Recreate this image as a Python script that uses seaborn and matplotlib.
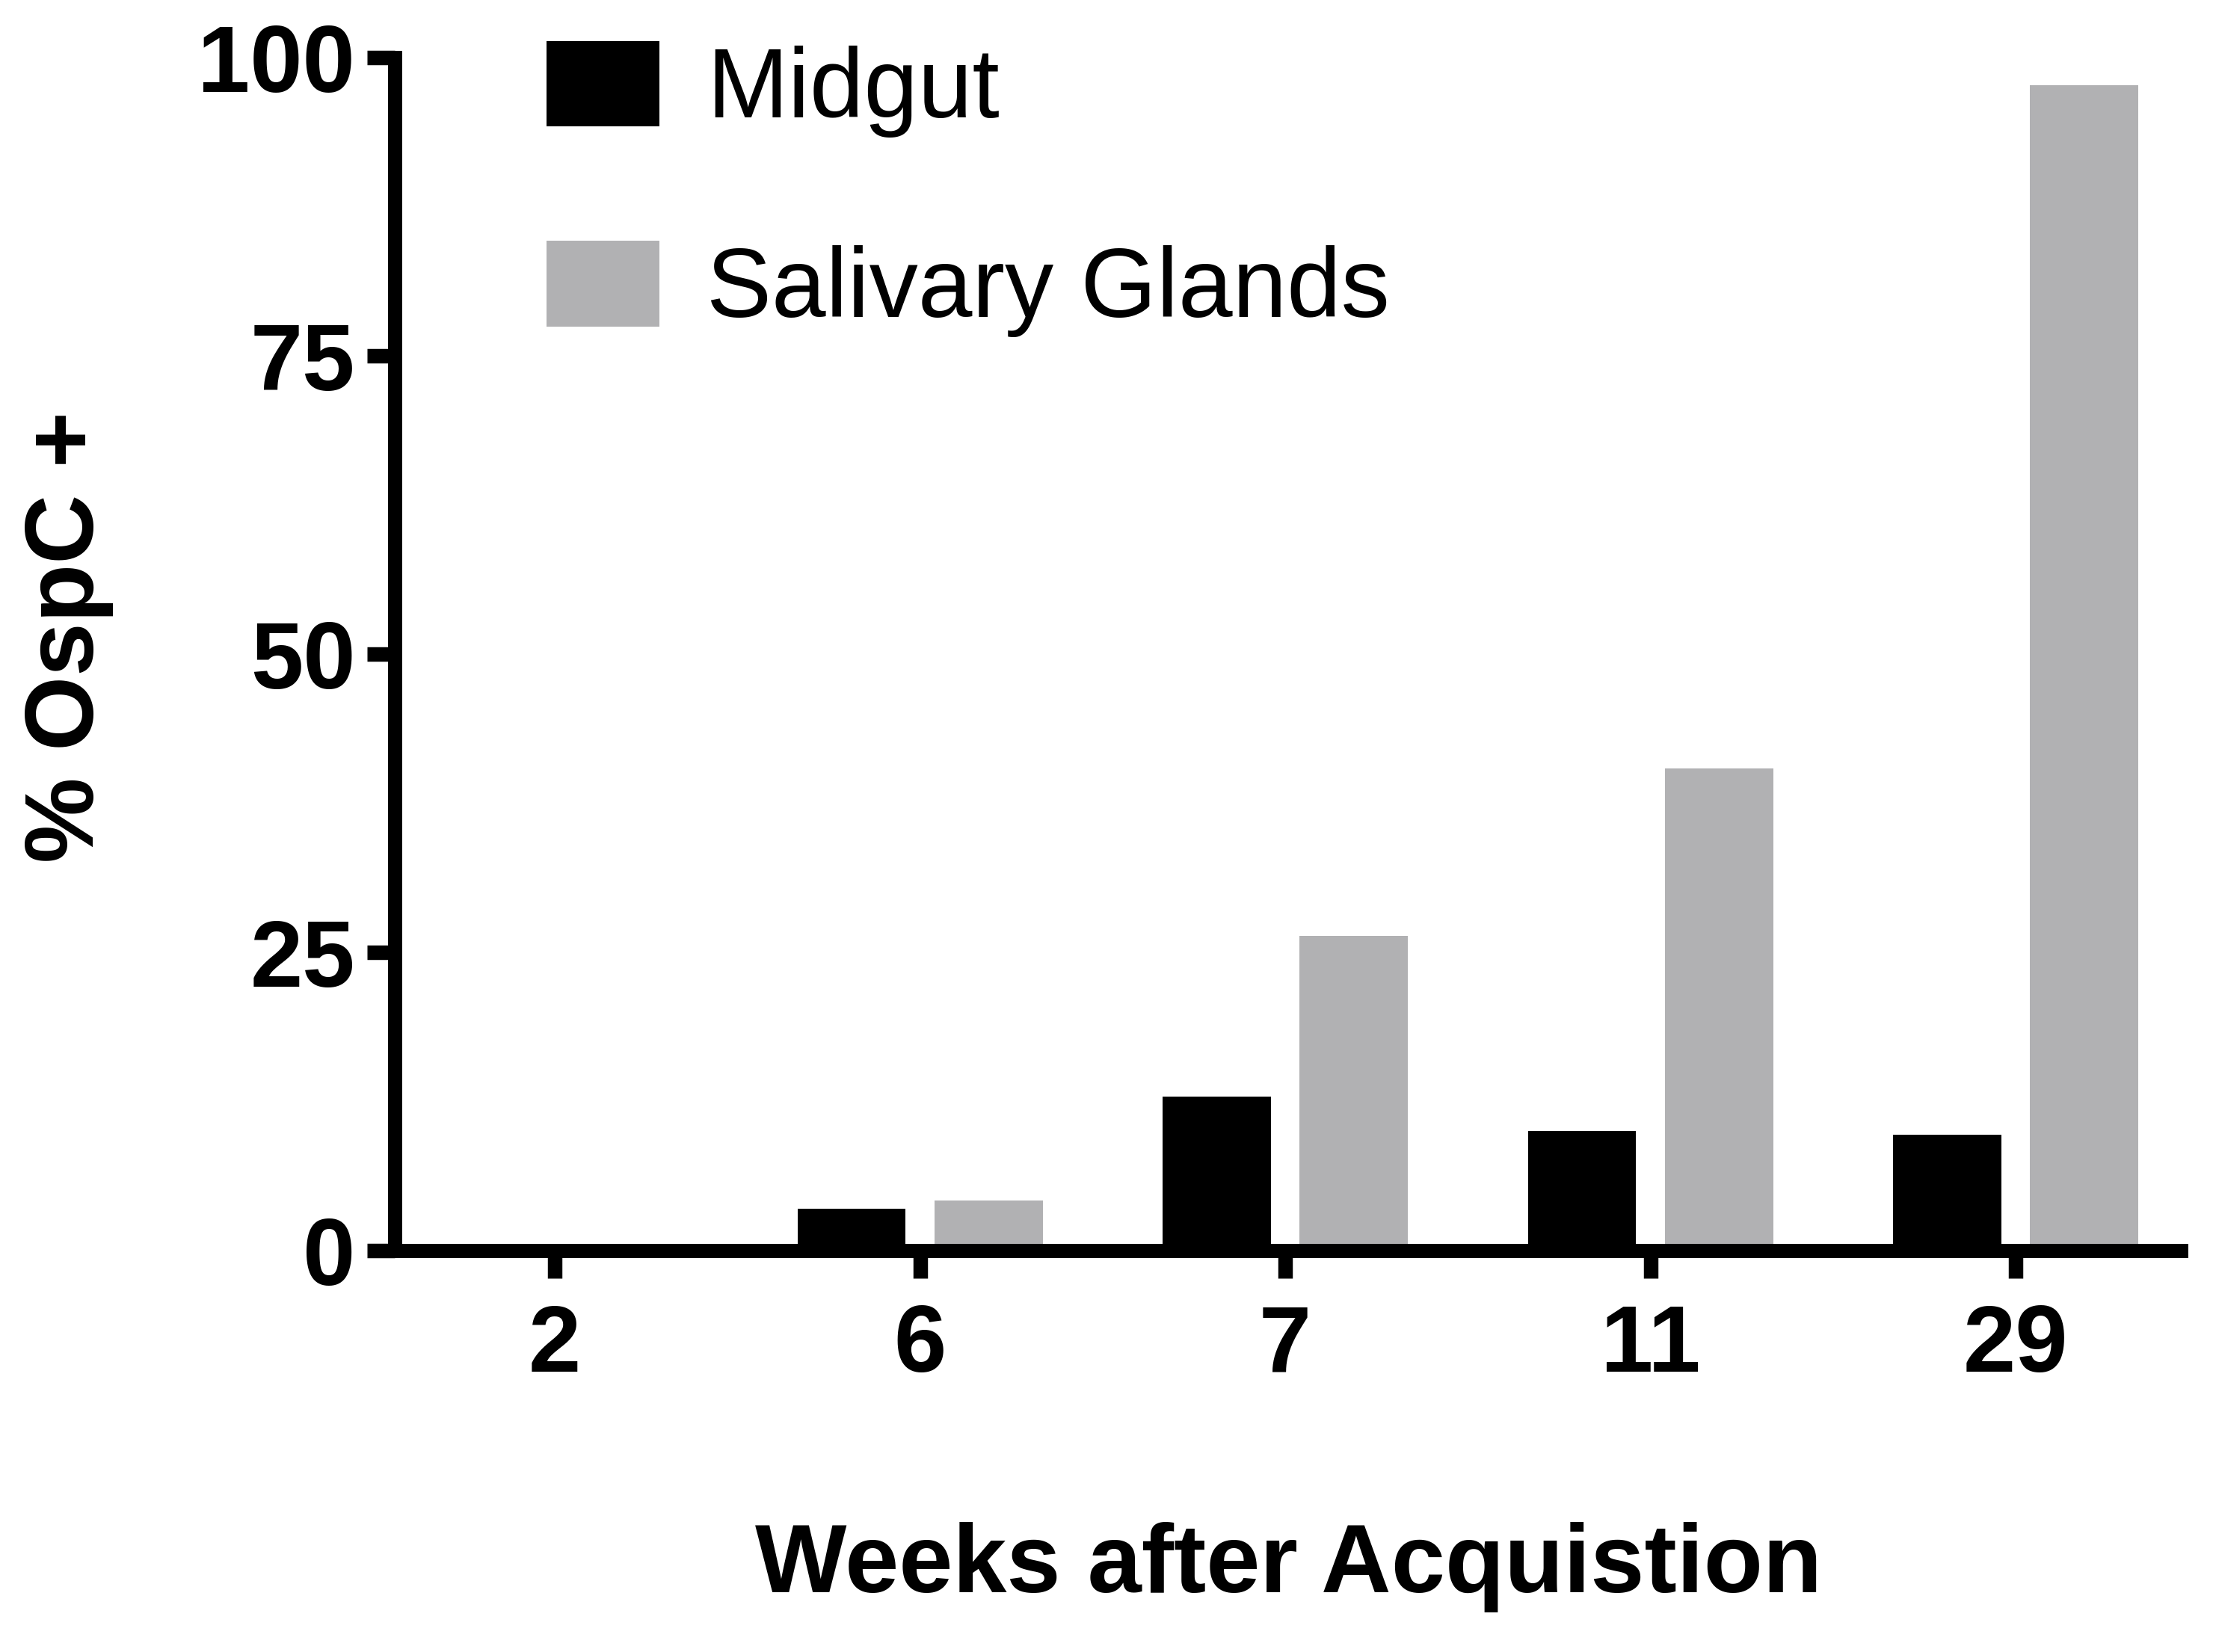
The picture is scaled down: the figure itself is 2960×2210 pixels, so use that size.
import matplotlib
matplotlib.use("Agg")
import matplotlib.pyplot as plt
import seaborn as sns
import pandas as pd
from matplotlib.patches import Patch

weeks = ["2", "6", "7", "11", "29"]
midgut = [0.0, 3.5, 12.9, 10.0, 9.7]
salivary = [0.0, 4.2, 26.4, 40.4, 97.7]
series_names = ["Midgut", "Salivary Glands"]
colors = ["#000000", "#b1b1b3"]
y_ticks = [0, 25, 50, 75, 100]

df = pd.DataFrame({
    "week": weeks * 2,
    "value": midgut + salivary,
    "tissue": [series_names[0]] * len(weeks) + [series_names[1]] * len(weeks),
})

sns.set_theme(style="white")
plt.rcParams["font.family"] = ["Liberation Sans", "DejaVu Sans"]
plt.rcParams["text.color"] = "black"

W, H, DPI = 2960, 2210, 200
fig = plt.figure(figsize=(W / DPI, H / DPI), dpi=DPI)
left, right, top, bottom = 528, 2917, 77, 1673
ax = fig.add_axes([left / W, 1 - bottom / H, (right - left) / W, (bottom - top) / H])

sns.barplot(data=df, x="week", y="value", hue="tissue", order=weeks,
            hue_order=series_names, palette=colors, saturation=1,
            width=0.75, gap=0.21, ax=ax, legend=False, linewidth=0)

ax.set_xlim(-0.438, 4.452)
ax.set_ylim(0, 100)
ax.set_yticks(y_ticks)
ax.set_xlabel("")
ax.set_ylabel("")
for s in ["top", "right"]:
    ax.spines[s].set_visible(False)
for s in ["left", "bottom"]:
    ax.spines[s].set_linewidth(6.8)
    ax.spines[s].set_color("black")
    ax.spines[s].set_capstyle("projecting")
ax.tick_params(axis="x", length=13.3, width=7, pad=12, labelsize=45.5, colors="black", direction="out", bottom=True)
ax.tick_params(axis="y", length=13.5, width=7, pad=5.5, labelsize=45.5, colors="black", direction="out", left=True)
for lab in ax.get_xticklabels() + ax.get_yticklabels():
    lab.set_fontweight("bold")

handles = [Patch(facecolor=c, edgecolor="none") for c in colors]
leg = fig.legend(handles, series_names, loc="upper left", bbox_to_anchor=(731 / W, 1 - 55 / H),
                 frameon=False, fontsize=47, handlelength=1.16, handleheight=0.97,
                 handletextpad=0.48, labelspacing=1.06, borderpad=0, borderaxespad=0)
for t in leg.get_texts():
    t.set_color("black")

fig.text(1724 / W, 1 - 2130 / H, "Weeks after Acquistion", ha="center", va="baseline",
         fontsize=46.7, fontweight="bold", color="black")
fig.text(92 / W, 1 - 852 / H, "% OspC +", ha="center", va="center", rotation=90,
         fontsize=46.3, fontweight="bold", color="black")

fig.savefig("out.png", dpi=DPI, facecolor="white")
